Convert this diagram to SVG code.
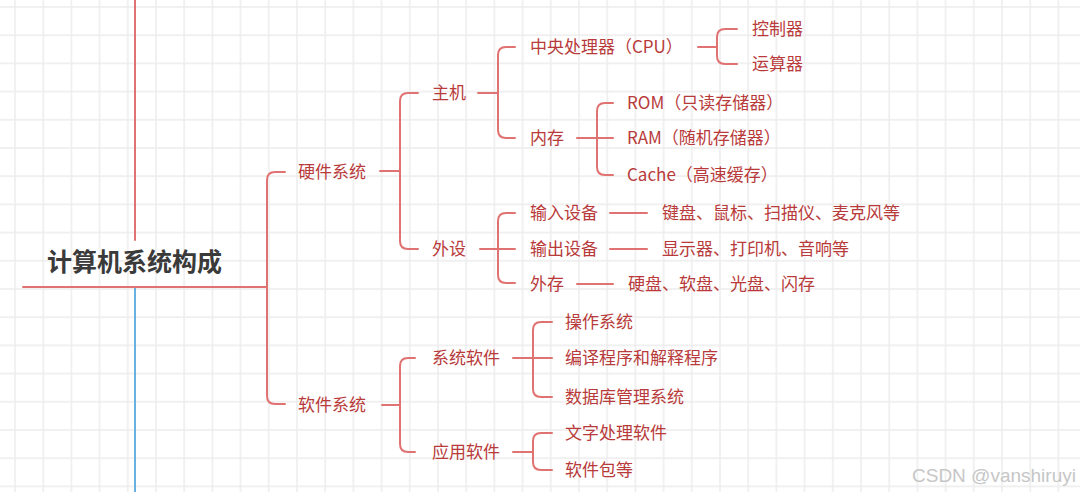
<svg xmlns="http://www.w3.org/2000/svg" width="1080" height="492" viewBox="0 0 1080 492">
<style>
.ln{fill:none;stroke:#e07272;stroke-width:2;stroke-linecap:round}
.t{font-family:"Noto Sans CJK SC","Noto Sans",sans-serif;font-size:17px;fill:#b83a3a}
.title{font-family:"Noto Sans CJK SC","Noto Sans",sans-serif;font-size:25px;font-weight:bold;fill:#3a3a3a}
.wm{font-family:"Liberation Sans",Arial,sans-serif;font-size:19px;fill:#c6c6c6}
</style>
<defs>
<pattern id="grid" x="14" y="6" width="28.2" height="28.2" patternUnits="userSpaceOnUse">
<path d="M1,0 V28.2 M0,1 H28.2" stroke="#ececec" stroke-width="1.5" fill="none"/>
</pattern>
</defs>
<rect width="1080" height="492" fill="#ffffff"/>
<rect width="1080" height="492" fill="url(#grid)"/>

<g id="connectors">
<path class="ln" d="M135,0 V240"/>
<path d="M135,288 V492" stroke="#6ab0e0" stroke-width="2" fill="none"/>
<path class="ln" d="M23,287 H267"/>
<path class="ln" d="M285,172 H275 Q267,172 267,180 V396 Q267,404 275,404 H285"/>
<path class="ln" d="M380,171 H400"/>
<path class="ln" d="M418,93 H408 Q400,93 400,101 V241 Q400,249 408,249 H418"/>
<path class="ln" d="M478,93 H498"/>
<path class="ln" d="M515,47 H506 Q498,47 498,55 V130 Q498,138 506,138 H515"/>
<path class="ln" d="M698,47 H717"/>
<path class="ln" d="M737,29 H725 Q717,29 717,37 V56 Q717,64 725,64 H737"/>
<path class="ln" d="M577,138 H613"/>
<path class="ln" d="M613,103 H605 Q597,103 597,111 V167 Q597,175 605,175 H613"/>
<path class="ln" d="M480,249 H515"/>
<path class="ln" d="M515,213 H506 Q498,213 498,221 V275 Q498,283 506,283 H515"/>
<path class="ln" d="M610,213 H647"/>
<path class="ln" d="M610,249 H647"/>
<path class="ln" d="M577,284 H613"/>
<path class="ln" d="M382,405 H400"/>
<path class="ln" d="M415,358 H408 Q400,358 400,366 V444 Q400,452 408,452 H415"/>
<path class="ln" d="M513,358 H552"/>
<path class="ln" d="M552,322 H541 Q533,322 533,330 V389 Q533,397 541,397 H552"/>
<path class="ln" d="M513,452 H533"/>
<path class="ln" d="M552,433 H541 Q533,433 533,441 V462 Q533,470 541,470 H552"/>
</g>

<g id="root"><text class="title" x="47" y="271">计算机系统构成</text></g>
<g id="hardware"><text class="t" x="298" y="178">硬件系统</text></g>
<g id="software"><text class="t" x="298" y="411">软件系统</text></g>
<g id="host"><text class="t" x="432" y="99">主机</text></g>
<g id="peripheral"><text class="t" x="432" y="255">外设</text></g>
<g id="syssoft"><text class="t" x="432" y="364">系统软件</text></g>
<g id="appsoft"><text class="t" x="432" y="458">应用软件</text></g>
<g id="cpu"><text class="t" x="530" y="53">中央处理器（CPU）</text></g>
<g id="memory"><text class="t" x="530" y="144">内存</text></g>
<g id="controller"><text class="t" x="752" y="35">控制器</text></g>
<g id="alu"><text class="t" x="752" y="70">运算器</text></g>
<g id="rom"><text class="t" x="627" y="109">ROM（只读存储器）</text></g>
<g id="ram"><text class="t" x="627" y="144">RAM（随机存储器）</text></g>
<g id="cache"><text class="t" x="627" y="181">Cache（高速缓存）</text></g>
<g id="input"><text class="t" x="530" y="219">输入设备</text></g>
<g id="output"><text class="t" x="530" y="255">输出设备</text></g>
<g id="extstore"><text class="t" x="530" y="290">外存</text></g>
<g id="input-ex"><text class="t" x="662" y="219">键盘、鼠标、扫描仪、麦克风等</text></g>
<g id="output-ex"><text class="t" x="662" y="255">显示器、打印机、音响等</text></g>
<g id="extstore-ex"><text class="t" x="628" y="290">硬盘、软盘、光盘、闪存</text></g>
<g id="os"><text class="t" x="565" y="328">操作系统</text></g>
<g id="compiler"><text class="t" x="565" y="364">编译程序和解释程序</text></g>
<g id="dbms"><text class="t" x="565" y="403">数据库管理系统</text></g>
<g id="wordproc"><text class="t" x="565" y="439">文字处理软件</text></g>
<g id="packages"><text class="t" x="565" y="476">软件包等</text></g>
<text class="wm" x="912" y="482">CSDN @vanshiruyi</text>
</svg>
